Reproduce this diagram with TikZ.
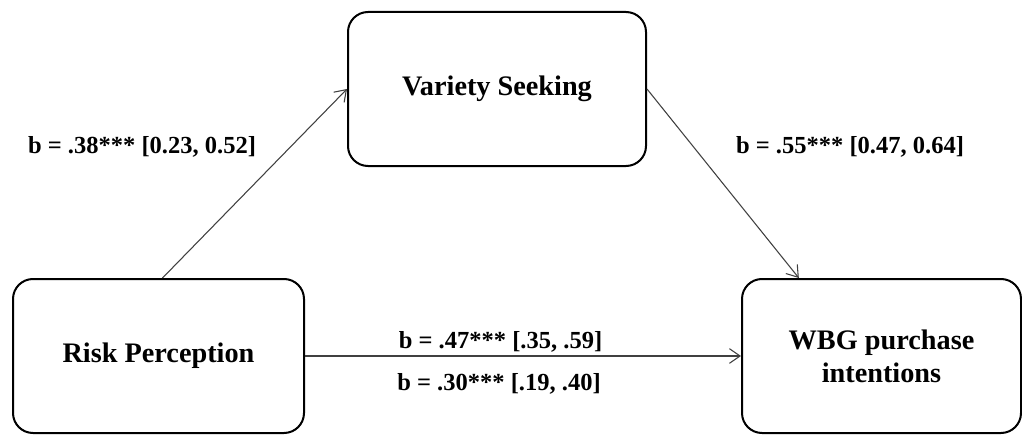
\documentclass[tikz,border=0pt]{standalone}
\usepackage{fontspec}
\setmainfont{Liberation Serif}
\usetikzlibrary{arrows.meta}
\tikzset{
  varbox/.style={draw, line width=1.5pt, rounded corners=15pt, align=center,
    minimum height=115.5pt, font=\fontsize{21.2}{25}\selectfont\bfseries},
  coef/.style={anchor=base, font=\fontsize{18.4}{22}\selectfont\bfseries},
  link/.style={draw=black!75, line width=0.8pt, -{Straight Barb[length=8pt,width=11pt]}}
}
\begin{document}
\begin{tikzpicture}[x=0.75pt,y=-0.75pt]
\useasboundingbox (0,0) rectangle (1022,435);
\node[varbox, minimum width=223.5pt] (vs) at (497,89) {Variety Seeking};
\node[varbox, minimum width=218.25pt] (rp) at (158.5,356) {Risk Perception};
\node[varbox, minimum width=209.25pt] (wbg) at (881.5,356) {WBG purchase\\intentions};
\draw[link] ([xshift=3pt]rp.north) -- (vs.west);
\draw[link] (vs.east) -- ([xshift=-62pt]wbg.north);
\draw[link] (rp.east) -- (wbg.west);
\node[coef] (a) at (142,153) {b = .38*** [0.23, 0.52]};
\node[coef] (b) at (850,153) {b = .55*** [0.47, 0.64]};
\node[coef] (c) at (500.5,348) {b = .47*** [.35, .59]};
\node[coef] (cp) at (499,390) {b = .30*** [.19, .40]};
\end{tikzpicture}
\end{document}
